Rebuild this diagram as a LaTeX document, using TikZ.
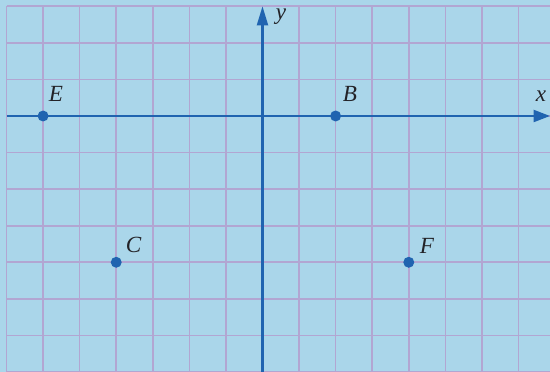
\documentclass[tikz,border=0pt]{standalone}
\usepackage{fontspec}
\setmainfont{Liberation Serif}
\usetikzlibrary{arrows.meta}
\definecolor{bgblue}{RGB}{170,214,234}
\definecolor{gridlav}{RGB}{178,166,210}
\definecolor{axisblue}{RGB}{32,100,176}
\definecolor{labelgray}{RGB}{35,35,40}
\tikzset{
  gridline/.style={draw=gridlav, line width=1.3pt},
  axisline/.style={draw=axisblue, line width=1.6pt},
  ptdot/.style={circle, fill=axisblue, inner sep=0pt, minimum size=0.3cm},
  lbl/.style={text=labelgray, font=\fontsize{18}{20}\selectfont\itshape, inner sep=0pt, anchor=base}
}
\begin{document}
\begin{tikzpicture}
\useasboundingbox (-7.178,-7.0) rectangle (7.862,3.172);
\fill[bgblue] (-7.178,-7.0) rectangle (7.862,3.172);
\begin{scope}
\clip (-7.178,-7.0) rectangle (7.862,3.172);
\foreach \i in {-7,...,7} \draw[gridline] (\i,-7.2) -- (\i,3.0);
\foreach \j in {-7,...,3} \draw[gridline] (-7,\j) -- (8,\j);
\end{scope}
\coordinate (xstart) at (-7,0);
\coordinate (xend) at (7.862,0);
\coordinate (ystart) at (0,-7.0);
\coordinate (yend) at (0,3.0);
\draw[axisline, -{Triangle[length=0.45cm,width=0.33cm]}] (xstart) -- (xend);
\draw[axisline, -{Triangle[length=0.52cm,width=0.30cm]}] (ystart) -- (yend);
\node[ptdot] (E) at (-6,0) {};
\node[ptdot] (B) at (2,0) {};
\node[ptdot] (C) at (-4,-4) {};
\node[ptdot] (F) at (4,-4) {};
\node[lbl] (Elbl) at (-5.647,0.383) {E};
\node[lbl] (Blbl) at (2.393,0.383) {B};
\node[lbl] (Clbl) at (-3.527,-3.746) {C};
\node[lbl] (Flbl) at (4.498,-3.765) {F};
\node[lbl] (xlbl) at (7.615,0.383) {x};
\node[lbl] (ylbl) at (0.506,2.63) {y};
\end{tikzpicture}
\end{document}
